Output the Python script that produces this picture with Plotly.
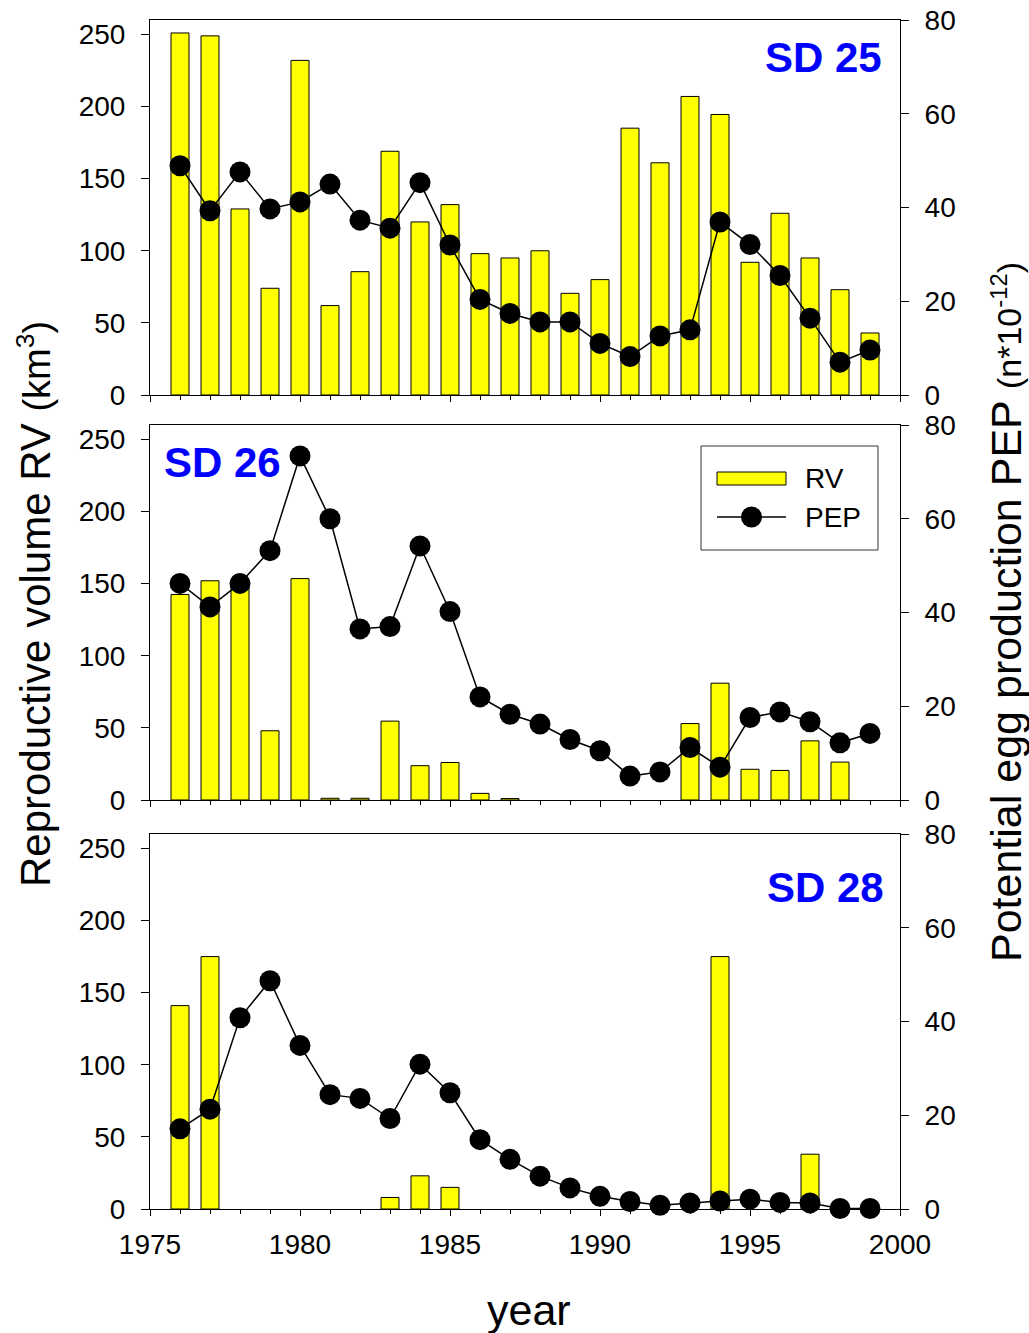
import plotly.graph_objects as go

years = list(range(1976, 2000))

# None = no bar drawn for that year
rv_sd25 = [251, 249, 129, 74, 232, 62, 85.5, 169, 120, 132, 98, 95, 100, 70.5, 80, 185,
           161, 207, 194.5, 92, 126, 95, 73, 43]
pep_sd25 = [48.9, 39.3, 47.6, 39.7, 41.2, 45.0, 37.3, 35.6, 45.3, 32.0, 20.4, 17.4, 15.6,
            15.6, 11.0, 8.2, 12.6, 13.9, 36.9, 32.1, 25.5, 16.4, 7.0, 9.6]

rv_sd26 = [142.5, 152, 149, 48, 153.5, 1.2, 1.2, 54.7, 23.8, 26, 4.6, 1.0, None, None, None,
           None, None, 53, 81, 21.3, 20.5, 41, 26.3, None]
pep_sd26 = [46.2, 41.2, 46.2, 53.2, 73.4, 60.0, 36.5, 37.0, 54.2, 40.2, 22.0, 18.3, 16.2,
            12.9, 10.5, 5.1, 6.0, 11.2, 7.0, 17.6, 18.8, 16.7, 12.2, 14.2]

rv_sd28 = [141, 175, None, None, None, None, None, 8, 23, 15, None, None, None, None, None,
           None, None, None, 175, None, None, 38, None, None]
pep_sd28 = [17.1, 21.3, 40.8, 48.7, 34.9, 24.4, 23.6, 19.3, 30.9, 24.8, 14.8, 10.6, 7.0,
            4.5, 2.7, 1.6, 0.8, 1.3, 1.7, 2.1, 1.4, 1.3, 0.1, 0.1]

panel_labels = ["SD 25", "SD 26", "SD 28"]
rv_ticks = [0, 50, 100, 150, 200, 250]
pep_ticks = [0, 20, 40, 60, 80]
year_ticks = [1975, 1980, 1985, 1990, 1995, 2000]

# body margin is removed by post_script, so figure pixels == page pixels
W, H = 1029, 1333
PL, PT, PR, PB = 150, 20, 900, 1209          # plot area in page pixels
ML, MT = PL, PT
MR = W - PR
MB = H - PB
PW, PH = PR - PL, PB - PT


def px(x):
    return (x - PL) / PW


def py(y):
    return (PB - y) / PH


FONT = "Arial, Liberation Sans, sans-serif"
BLUE = "#0000FF"
YELLOW = "#FFFF00"

fig = go.Figure()

panels = [(rv_sd25, pep_sd25), (rv_sd26, pep_sd26), (rv_sd28, pep_sd28)]
domains = [[py(395), py(20)], [py(800), py(425)], [py(1209), py(834)]]

for i, (rv, pep) in enumerate(panels):
    xa = "x" if i == 0 else f"x{i+1}"
    ya_l = "y" if i == 0 else f"y{2*i+1}"
    ya_r = f"y{2*i+2}"
    fig.add_trace(go.Bar(x=years, y=rv, xaxis=xa, yaxis=ya_l, width=0.6,
                         marker=dict(color=YELLOW, line=dict(color="black", width=1)),
                         name="RV", showlegend=False))
    fig.add_trace(go.Scatter(x=years, y=pep, xaxis=xa, yaxis=ya_r, mode="lines+markers",
                             line=dict(color="black", width=1.5),
                             marker=dict(color="black", size=21, symbol="circle"),
                             cliponaxis=False, name="PEP", showlegend=False))

axis_common = dict(showline=True, linecolor="black", linewidth=1, showgrid=False,
                   zeroline=False, ticks="outside", tickcolor="black", automargin=False,
                   ticklabeloverflow="allow",
                   tickfont=dict(family=FONT, size=28, color="black"))

layout = dict(width=W, height=H, margin=dict(l=ML, r=MR, t=MT, b=MB, autoexpand=False),
              paper_bgcolor="white", plot_bgcolor="white", bargap=0,
              font=dict(family=FONT, color="black"))

for i in range(3):
    xkey = "xaxis" if i == 0 else f"xaxis{i+1}"
    ylk = "yaxis" if i == 0 else f"yaxis{2*i+1}"
    yrk = f"yaxis{2*i+2}"
    ya_l = "y" if i == 0 else f"y{2*i+1}"
    xa = "x" if i == 0 else f"x{i+1}"
    layout[xkey] = dict(axis_common, domain=[0, 1], anchor=ya_l, range=[1975, 2000],
                        tickvals=year_ticks, ticklen=6, mirror=True,
                        showticklabels=(i == 2), ticklabelstandoff=4,
                        minor=dict(dtick=1, tick0=1975, ticks="outside", ticklen=4,
                                   tickcolor="black", showgrid=False))
    if i > 0:
        layout[xkey]["matches"] = "x"
    layout[ylk] = dict(axis_common, domain=domains[i], anchor=xa, range=[0, 260],
                       tickvals=rv_ticks, ticklen=8, ticklabelstandoff=10)
    layout[yrk] = dict(axis_common, domain=domains[i], anchor=xa, range=[0, 80],
                       overlaying=ya_l, side="right", tickvals=pep_ticks, ticklen=8,
                       ticklabelstandoff=10)

fig.update_layout(**layout)

# Panel labels
ann = []
label_pos = [(884, 57, "right"), (162, 462, "left"), (886, 887, "right")]
for lab, (lx, ly, al) in zip(panel_labels, label_pos):
    ann.append(dict(x=px(lx), y=py(ly), xref="paper", yref="paper", text=f"<b>{lab}</b>",
                    showarrow=False, xanchor=al, yanchor="middle",
                    font=dict(family=FONT, size=42, color=BLUE)))

# Axis titles
ann.append(dict(x=px(34), y=py(604), xref="paper", yref="paper", textangle=-90,
                text='Reproductive volume RV <span style="font-size:38px">(km<sup>3</sup>)</span>',
                showarrow=False, xanchor="center", yanchor="middle",
                font=dict(family=FONT, size=42, color="black")))
ann.append(dict(x=px(1006), y=py(612), xref="paper", yref="paper", textangle=-90,
                text='Potential egg production PEP <span style="font-size:34px">(n*10<sup>-12</sup>)</span>',
                showarrow=False, xanchor="center", yanchor="middle",
                font=dict(family=FONT, size=43, color="black")))
ann.append(dict(x=px(529), y=py(1310), xref="paper", yref="paper", text="year",
                showarrow=False, xanchor="center", yanchor="middle",
                font=dict(family=FONT, size=43, color="black")))

# Manual legend in panel 2
ann.append(dict(x=px(803), y=py(479), xref="paper", yref="paper", text="RV",
                showarrow=False, xanchor="left", yanchor="middle",
                font=dict(family=FONT, size=28, color="black")))
ann.append(dict(x=px(803), y=py(517), xref="paper", yref="paper", text="PEP",
                showarrow=False, xanchor="left", yanchor="middle",
                font=dict(family=FONT, size=28, color="black")))

shapes = [
    dict(type="rect", xref="paper", yref="paper", x0=px(701), x1=px(878), y0=py(550), y1=py(446),
         line=dict(color="#333", width=1), fillcolor="white", layer="above"),
    dict(type="rect", xref="paper", yref="paper", x0=px(717), x1=px(786), y0=py(485), y1=py(472),
         line=dict(color="black", width=1), fillcolor=YELLOW, layer="above"),
    dict(type="line", xref="paper", yref="paper", x0=px(717), x1=px(786), y0=py(517), y1=py(517),
         line=dict(color="black", width=1.5), layer="above"),
    dict(type="circle", xref="paper", yref="paper", x0=px(741), x1=px(762), y0=py(527.5), y1=py(506.5),
         line=dict(color="black", width=0), fillcolor="black", layer="above"),
]

fig.update_layout(annotations=ann, shapes=shapes)
fig.write_html("out.html", config={"displayModeBar": False, "staticPlot": True},
               post_script="document.body.style.margin='0';document.body.style.overflow='hidden';")
